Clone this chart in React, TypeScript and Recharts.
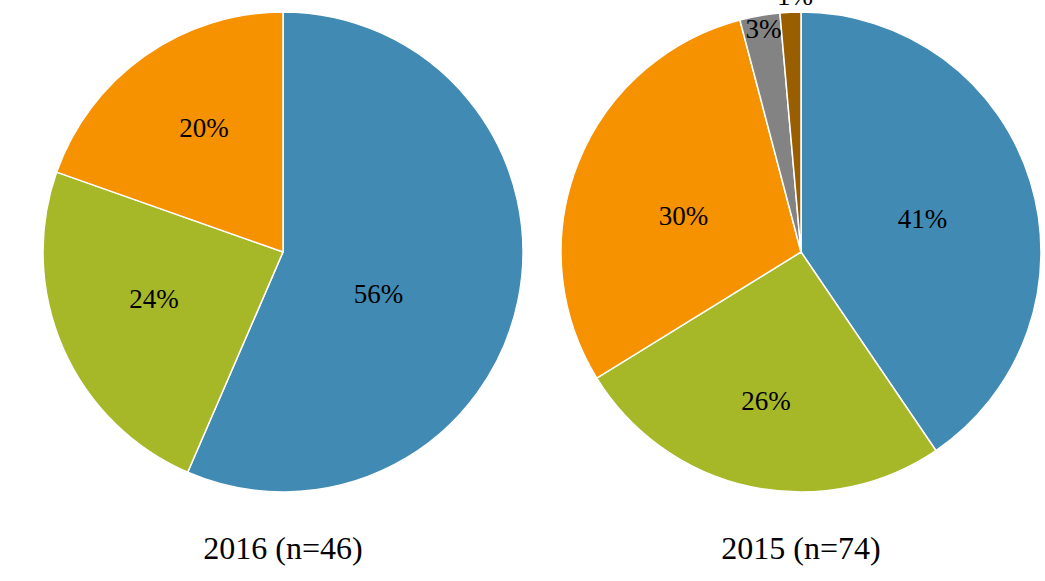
import { PieChart, Pie, Cell } from 'recharts';

// Shares in percent
const categories = ['A', 'B', 'C', 'D', 'E'];
const share2016 = [56.5, 23.9, 19.6];
const share2015 = [40.5, 25.7, 29.7, 2.7, 1.4];
const labels2016 = ['56%', '24%', '20%'];
const labels2015 = ['41%', '26%', '30%', '3%', '1%'];
const titles = ['2016 (n=46)', '2015 (n=74)'];

const COLORS = ['#418AB3', '#A6B727', '#F69200', '#838383', '#985E00'];

// label placement: fraction of radius + small clockwise nudge (deg) off the bisector
const LABEL_R_2016 = [0.434, 0.572, 0.614];
const LABEL_ROT_2016 = [11.8, 3.6, 2.9];
const LABEL_R_2015 = [0.525, 0.636, 0.512, 0.944, 1.067];
const LABEL_ROT_2015 = [1.8, 1.2, -4.8, 0.4, 1.2];

const RADIAN = Math.PI / 180;
const FONT = '"Liberation Serif", "Times New Roman", serif';

const toRows = (vals: number[], labels: string[]) =>
  vals.map((v, i) => ({ name: categories[i], value: v, label: labels[i] }));

const makeLabel = (radii: number[], rot: number[]) => (props: any) => {
  const { cx, cy, midAngle, outerRadius, index, payload } = props;
  const r = outerRadius * radii[index];
  const a = midAngle - rot[index];
  const x = cx + r * Math.cos(-a * RADIAN);
  const y = cy + r * Math.sin(-a * RADIAN);
  return (
    <text x={x} y={y} fill="#000" textAnchor="middle" dominantBaseline="central"
      style={{ fontFamily: FONT, fontSize: 27 }}>
      {payload.label}
    </text>
  );
};

export default function App() {
  const data2016 = toRows(share2016, labels2016);
  const data2015 = toRows(share2015, labels2015);

  return (
    <div style={{ position: 'absolute', left: 0, top: 0, width: 1045, height: 581, background: '#fff' }}>
      <PieChart width={1045} height={581} margin={{ top: 0, right: 0, bottom: 0, left: 0 }}>
        <Pie data={data2016} dataKey="value" cx={283} cy={252} outerRadius={240}
          startAngle={90} endAngle={-270} stroke="#fff" strokeWidth={1.5}
          label={makeLabel(LABEL_R_2016, LABEL_ROT_2016)} labelLine={false} isAnimationActive={false}>
          {data2016.map((_, i) => <Cell key={i} fill={COLORS[i]} />)}
        </Pie>
        <Pie data={data2015} dataKey="value" cx={801} cy={252} outerRadius={240}
          startAngle={90} endAngle={-270} stroke="#fff" strokeWidth={1.5}
          label={makeLabel(LABEL_R_2015, LABEL_ROT_2015)} labelLine={false} isAnimationActive={false}>
          {data2015.map((_, i) => <Cell key={i} fill={COLORS[i]} />)}
        </Pie>
      </PieChart>
      {titles.map((t, i) => (
        <div key={t} style={{
          position: 'absolute', top: 528, left: i === 0 ? 133 : 651, width: 300,
          textAlign: 'center', fontFamily: FONT, fontSize: 32, lineHeight: '40px', color: '#000',
        }}>{t}</div>
      ))}
    </div>
  );
}
